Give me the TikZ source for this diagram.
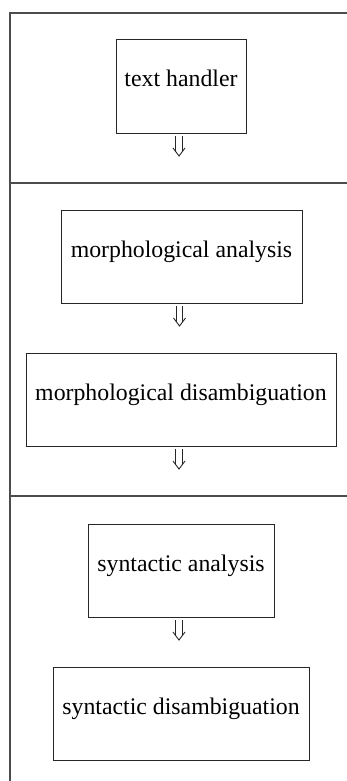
\documentclass[tikz,border=0pt]{standalone}
\usepackage{fontspec}
\setmainfont{Liberation Serif}
\usepackage{tikz}
\usetikzlibrary{positioning}

\begin{document}
\begin{tikzpicture}[
    x=0.5pt, y=-0.5pt,
    stage/.style={rectangle, draw=black!85, line width=0.5pt, inner xsep=4.25pt, inner ysep=0pt,
        text height=23.5pt, text depth=23pt, align=center, font=\fontsize{11.9}{14}\selectfont},
    frameline/.style={draw=black!70, line width=0.6pt},
    arrline/.style={draw=black!85, line width=0.45pt, line join=miter}
]
\useasboundingbox (0,0) rectangle (347,781);
% frame and section separators
\draw[frameline] (347,13) -- (10,13) -- (10,781);
\draw[frameline] (10,183) -- (347,183);
\draw[frameline] (10,496) -- (347,496);
% stages
\node[stage, minimum width=65pt] (th) at (181,86.5) {text handler};
\node[stage, minimum width=120.5pt] (ma) at (181.5,256.5) {morphological analysis};
\node[stage, minimum width=155pt] (md) at (181,399.5) {morphological disambiguation};
\node[stage, minimum width=93pt] (sa) at (181,570.5) {syntactic analysis};
\node[stage, minimum width=128pt] (sd) at (181,713.5) {syntactic disambiguation};
% double arrows below each stage
\foreach \n in {th,ma,md,sa}{
  \draw[arrline] ([xshift=-2.65pt,yshift=-1.25pt]\n.south) -- ([xshift=-2.65pt,yshift=-9.1pt]\n.south)
                 ([xshift=0.65pt,yshift=-1.25pt]\n.south) -- ([xshift=0.65pt,yshift=-9.1pt]\n.south);
  \draw[arrline] ([xshift=-4pt,yshift=-7.25pt]\n.south) -- ([xshift=-1pt,yshift=-11.25pt]\n.south)
                 -- ([xshift=2pt,yshift=-7.25pt]\n.south);
}
\end{tikzpicture}
\end{document}
